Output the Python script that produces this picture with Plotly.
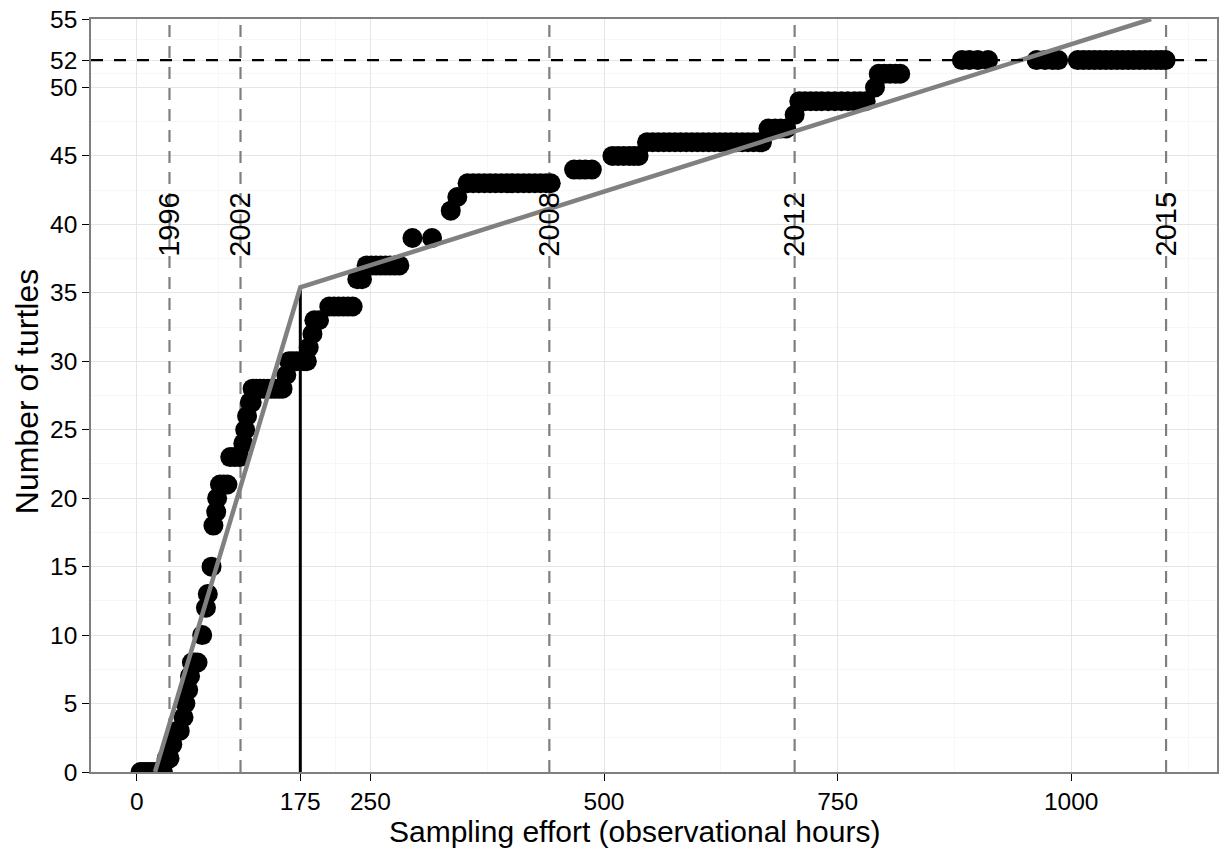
import plotly.graph_objects as go

# ---- data ----
effort = [
    4, 8, 12, 16, 20, 24, 28,            # 0
    32, 35,                              # 1
    38,                                  # 2
    43, 46,                              # 3
    50,                                  # 4
    52,                                  # 5
    55,                                  # 6
    57,                                  # 7
    59, 62, 65,                          # 8
    70,                                  # 10
    74,                                  # 12
    76,                                  # 13
    80,                                  # 15
    82,                                  # 18
    85,                                  # 19
    86,                                  # 20
    89, 93, 97,                          # 21
    100, 105, 110,                       # 23
    114,                                 # 24
    116,                                 # 25
    118,                                 # 26
    121, 123,                            # 27
    124, 128, 132, 136, 140, 144, 148, 152, 156,   # 28
    160,                                 # 29
    163, 167, 171, 175, 179, 182,        # 30
    184,                                 # 31
    188,                                 # 32
    190, 195,                            # 33
    206, 211, 216, 221, 226, 231,        # 34
    236, 241,                            # 36
    246, 251, 256, 261, 266, 271, 276, 281,   # 37
    295, 316,                            # 39
    336,                                 # 41
    343,                                 # 42
    354, 360, 366, 372, 378, 384, 390, 396, 402, 408, 414, 420, 426, 432, 438, 443,  # 43
    468, 474, 480, 487,                  # 44
    509, 515, 521, 527, 532, 537,        # 45
    546, 552, 558, 564, 570, 576, 582, 588, 594, 600, 606, 612, 618, 624, 630,
    636, 642, 648, 654, 660, 666, 669,   # 46
    676, 683, 689, 695,                  # 47
    704,                                 # 48
    709, 715, 721, 727, 733, 740, 747, 754, 761, 768, 774, 780,  # 49
    790,                                 # 50
    794, 800, 806, 812, 817,             # 51
    883, 891, 900, 911, 963, 972, 980, 986,
    1007, 1013, 1019, 1025, 1031, 1037, 1043, 1049, 1055, 1061, 1067, 1073,
    1079, 1085, 1091, 1096, 1101,        # 52
]
turtles = (
    [0] * 7 + [1] * 2 + [2] + [3] * 2 + [4] + [5] + [6] + [7] + [8] * 3 + [10] + [12] + [13] + [15]
    + [18] + [19] + [20] + [21] * 3 + [23] * 3 + [24] + [25] + [26] + [27] * 2 + [28] * 9 + [29]
    + [30] * 6 + [31] + [32] + [33] * 2 + [34] * 6 + [36] * 2 + [37] * 8 + [39] * 2 + [41] + [42]
    + [43] * 16 + [44] * 4 + [45] * 6 + [46] * 22 + [47] * 4 + [48] + [49] * 12 + [50] + [51] * 5
    + [52] * 25
)

# segmented regression fit (breakpoint at 175 h)
fit_x = [19.5, 175, 1085.5]
fit_y = [0, 35.4, 55]

breakpoint_x = [175, 175]
breakpoint_y = [0, 35.4]

year_labels = ["1996", "2002", "2008", "2012", "2015"]
year_effort = [35, 111, 441.5, 704, 1101.5]
label_y = 40

asymptote = 52

x_ticks = [0, 175, 250, 500, 750, 1000]
x_minor = [87.5, 212.5, 375, 625, 875, 1125]
y_ticks = [0, 5, 10, 15, 20, 25, 30, 35, 40, 45, 50, 52, 55]
y_minor = [2.5, 7.5, 12.5, 17.5, 22.5, 27.5, 32.5, 37.5, 42.5, 47.5, 51, 53.5]

x_title = "Sampling effort (observational hours)"
y_title = "Number of turtles"

FONT = "Liberation Sans, Arial, sans-serif"

fig = go.Figure()

# year dashed lines
for yx in year_effort:
    fig.add_trace(go.Scatter(x=[yx, yx], y=[0, 55], mode="lines",
                             line=dict(color="#7F7F7F", width=2.2, dash="12px,9px"),
                             hoverinfo="skip", showlegend=False))

# points
fig.add_trace(go.Scatter(x=effort, y=turtles, mode="markers",
                         marker=dict(color="black", size=20, line=dict(width=0)),
                         showlegend=False))

# breakpoint vertical line
fig.add_trace(go.Scatter(x=breakpoint_x, y=breakpoint_y, mode="lines",
                         line=dict(color="black", width=3), showlegend=False))

# fitted line
fig.add_trace(go.Scatter(x=fit_x, y=fit_y, mode="lines",
                         line=dict(color="#808080", width=4.5), showlegend=False))

# asymptote
fig.add_shape(type="line", xref="paper", x0=0, x1=1, yref="y", y0=asymptote, y1=asymptote,
              line=dict(color="black", width=2.2, dash="12px,11px"), layer="above")

for lab, yx in zip(year_labels, year_effort):
    fig.add_annotation(x=yx, y=label_y, text=lab, textangle=-90, showarrow=False,
                       font=dict(family=FONT, size=29, color="black"),
                       xanchor="center", yanchor="middle")

# axis titles
fig.add_annotation(xref="paper", yref="paper", x=0.483, y=-0.0795, text=x_title,
                   showarrow=False, xanchor="center", yanchor="middle",
                   font=dict(family=FONT, size=30, color="black"))
fig.add_annotation(xref="paper", yref="paper", x=-0.0567, y=0.5046, text=y_title,
                   showarrow=False, xanchor="center", yanchor="middle", textangle=-90,
                   font=dict(family=FONT, size=32, color="black"))

axis_common = dict(
    showline=True, mirror=True, linecolor="#7F7F7F", linewidth=1.5,
    ticks="outside", tickcolor="black", ticklen=7, tickwidth=1.2,
    showgrid=True, gridcolor="#E5E5E5", gridwidth=1, zeroline=False,
    tickfont=dict(family=FONT, size=24.5, color="black"),
)

fig.update_xaxes(range=[-49, 1156], tickmode="array", tickvals=x_ticks,
                 ticktext=[str(v) for v in x_ticks],
                 minor=dict(tickmode="array", tickvals=x_minor, showgrid=True,
                            gridcolor="#F7F7F7", gridwidth=1, ticks=""),
                 **axis_common)
fig.update_yaxes(range=[0, 55], tickmode="array", tickvals=y_ticks,
                 ticktext=[str(v) for v in y_ticks],
                 minor=dict(tickmode="array", tickvals=y_minor, showgrid=True,
                            gridcolor="#F7F7F7", gridwidth=1, ticks=""),
                 **axis_common)

fig.update_layout(width=1225, height=855, autosize=False,
                  margin=dict(l=91, r=6, t=17, b=83),
                  paper_bgcolor="white", plot_bgcolor="white",
                  font=dict(family=FONT, color="black"))

fig.write_html("out.html")
